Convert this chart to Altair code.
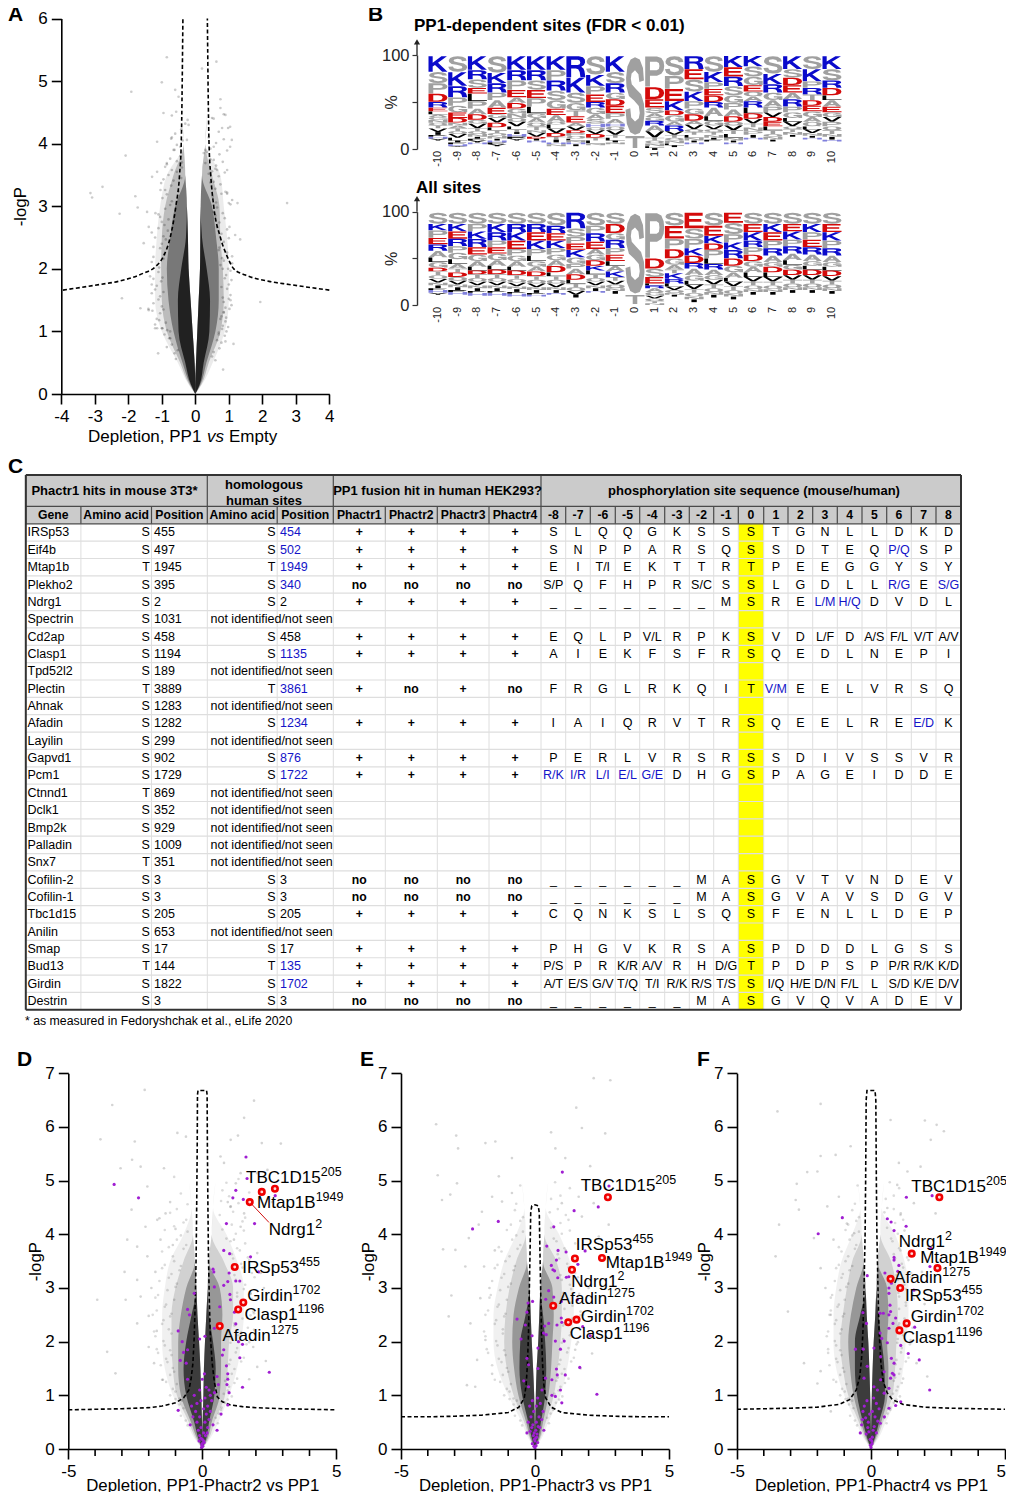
import altair as alt
import pandas as pd

FONT = "Liberation Sans"
W, H = 998, 1484

def D(**k):
    return pd.DataFrame(k)

PAGE_X = alt.Scale(domain=[0, 1014], range=[-8, 1006], nice=False, zero=False)
PAGE_Y = alt.Scale(domain=[0, 1500], range=[-8, 1492], nice=False, zero=False)

# ---------------- panel A -------------------------------------------------
A_Y = [0, .15, .5, 1, 1.5, 2, 2.5, 3, 3.5, 4, 4.5, 5]
A_GAP_L = [0, 0, -.02, -.08, -.14, -.2, -.22, -.25, -.3, -.35, -.4, -.45]
A_GAP_R = [0, 0, .02, .06, .1, .14, .15, .16, .2, .3, .35, .4]
A_LEFT = [[0, -.2, -.52, -1.0, -1.2, -1.2, -1.15, -1.05, -.85, -.35, -.4, -.45],
          [0, -.18, -.45, -.85, -1.0, -1.02, -1.0, -.9, -.65, -.35, -.4, -.45],
          [0, -.15, -.38, -.65, -.8, -.85, -.75, -.6, -.3, -.35, -.4, -.45],
          [0, -.13, -.3, -.5, -.52, -.42, -.28, -.25, -.3, -.35, -.4, -.45]]
A_RIGHT = [[0, .2, .52, .88, 1.0, 1.0, .95, .85, .75, .3, .35, .4],
           [0, .18, .4, .75, .85, .82, .75, .72, .5, .3, .35, .4],
           [0, .15, .33, .6, .7, .7, .62, .5, .2, .3, .35, .4],
           [0, .13, .25, .42, .44, .34, .2, .16, .2, .3, .35, .4]]
A_ALPHA = [.08, .2, .36, .72]
A_PTS_X = [-.85, .2, .63, -1.91, -1, -.6, -.95, -.57, -.23, -.2, -.5, .75, .75, .9, 1.04, .8, .55, 1.09, -1.14, -2.08, -3.13, -3.08, -2.77, -1.79, -1.72, -2.26, -1.44, -1.29, -1.14, -1.54, 1.26, 2.74, 1.34, 1.19, 1.02, 1.94, -2.19, -1.64, -1.39, -1.14, -1.11, 1.14, .9, .83, -.25, .25, .55, 1.04, -.85, -.65, -.9, .95, .65, .9, .95, -1.39, -1.19, -1.04, -.7, -.45, .45, .6, .3, -.4, 1.0, -1.0, 1.1, -1.25, -1.3, .85, 1.05, -1.2, -.75, .7]
A_PTS_Y = [5.38, 5.2, 5.31, 4.83, 4.98, 4.86, 4.49, 4.51, 4.38, 4.3, 4.75, 4.71, 4.57, 4.46, 4.27, 4.25, 4.4, 4.06, 4.03, 3.81, 3.21, 3.14, 3.31, 3.16, 2.98, 2.88, 2.91, 3.47, 3.55, 2.41, 3.05, 3.05, 2.47, 2.54, 2.67, 1.47, 1.53, 1.37, 1.34, 1.05, .65, .8, .84, .39, 4.06, 3.85, 3.95, 3.95, 3.69, 3.9, 3.63, 3.58, 3.58, 3.23, 3.2, 2.67, 2.89, 3.26, 4.1, 3.95, 3.75, 3.6, 3.9, 3.7, 3.05, 2.75, 2.2, 2.35, 1.75, 1.3, 1.5, 1.05, 1.0, .95]
A_STIPPLE = [(.62, [-.62, -.58, -.52, .5, .55, .6]), (.81, [-.85, -.78, -.7, .65, .72, .78]), (.97, [-1.0, -.92, -.84, -.75, .7, .8, .88, .93]),
             (1.13, [-1.2, -1.08, -.98, -.88, .75, .82, .9, .98]), (1.28, [-1.28, -1.15, -1.05, -.95, .78, .85, .92, 1.02]), (1.44, [-1.4, -1.25, -1.1, -1.0, .85, .9, 1.0, 1.08]),
             (1.6, [-1.3, -1.2, -1.05, -.95, .82, .95, 1.05]), (1.77, [-1.25, -1.15, -1.02, .78, .88, 1.0, 1.08]), (1.92, [-1.35, -1.1, -.98, .82, .92, 1.05]),
             (2.08, [-1.3, -1.08, -.95, .75, .85, .98, 1.1]), (2.25, [-1.25, -1.05, -.92, .7, .8, .95]), (2.42, [-1.2, -1.0, -.88, .72, .85, 1.0]),
             (2.6, [-1.3, -1.1, -.95, -.82, .65, .78, .95]), (2.78, [-1.05, -.92, -.8, .6, .72, .88]), (2.95, [-1.1, -.9, -.75, .55, .65, .82, 1.05]),
             (3.12, [-.98, -.85, -.7, .52, .62, .78, 1.1]), (3.3, [-1.02, -.9, -.72, -.5, .45, .6, .75, .95]), (3.47, [-.95, -.8, -.65, -.55, -.42, .4, .55, .7, .88]),
             (3.64, [-.85, -.7, -.55, -.4, .3, .5, .62, .82]), (3.82, [-.75, -.62, -.45, .35, .55, .72, .95]), (4.0, [-.72, -.55, -.38, .45, .62, .85]),
             (4.18, [-.6, -.42, .4, .7, .98]), (4.4, [-.7, -.3, .5, .85])]
A_CURVE_L_X = [-3.95, -2.85, -2.3, -1.55, -1.2, -.95, -.75, -.58, -.47, -.42, -.39, -.38, -.37]
A_CURVE_L_Y = [1.66, 1.75, 1.8, 1.93, 2.03, 2.2, 2.5, 3, 3.5, 4, 5, 5.5, 6]
A_CURVE_R_X = [4.0, 2.8, 2.2, 1.5, 1.15, .95, .75, .55, .46, .41, .38, .37, .36]
A_CURVE_R_Y = [1.66, 1.75, 1.8, 1.9, 2.0, 2.2, 2.5, 3, 3.5, 4, 5, 5.5, 6]
# the stippled points of a row do not sit exactly on its height: offsets read as the rows' spread
ROW_SPREAD = [.03, -.06, .08, -.02, .05, -.08, .01, .07, -.04]

# ---------------- panels D, E, F ------------------------------------------
CLOUD_Y = [0, .2, .5, 1, 1.5, 2, 2.5, 3, 3.5, 4, 4.5, 5]
D_GAP_L = [0, 0, -.01, -.04, -.07, -.12, -.18, -.22, -.28, -.35, -.4, -.5]
D_GAP_R = [0, 0, .01, .04, .06, .1, .15, .2, .25, .35, .4, .5]
D_LEFT = [[0, -.3, -.6, -1.1, -1.4, -1.5, -1.5, -1.4, -1.2, -.7, -.4, -.5],
          [0, -.25, -.5, -.95, -1.1, -1.15, -1.15, -1.0, -.7, -.35, -.4, -.5],
          [0, -.2, -.42, -.8, -.9, -.9, -.8, -.6, -.28, -.35, -.4, -.5],
          [0, -.15, -.3, -.6, -.7, -.6, -.4, -.22, -.28, -.35, -.4, -.5]]
D_RIGHT = [[0, .3, .6, 1.0, 1.3, 1.45, 1.55, 1.55, 1.3, .9, .4, .5],
           [0, .25, .45, .85, .95, 1.0, 1.15, 1.15, .8, .35, .4, .5],
           [0, .2, .35, .65, .7, .7, .75, .65, .25, .35, .4, .5],
           [0, .15, .25, .45, .5, .4, .25, .2, .25, .35, .4, .5]]
E_GAP_L = [0, 0, -.01, -.03, -.07, -.12, -.16, -.2, -.3, -.35, -.4, -.5]
E_GAP_R = [0, 0, .01, .03, .06, .12, .16, .2, .3, .35, .4, .5]
E_LEFT = [[0, -.25, -.5, -1.0, -1.4, -1.55, -1.55, -1.4, -1.15, -.7, -.4, -.5],
          [0, -.2, -.4, -.8, -1.05, -1.15, -1.1, -.95, -.7, -.35, -.4, -.5],
          [0, -.17, -.33, -.62, -.78, -.85, -.8, -.6, -.3, -.35, -.4, -.5],
          [0, -.12, -.25, -.48, -.58, -.55, -.35, -.2, -.3, -.35, -.4, -.5]]
E_RIGHT = [[0, .25, .5, .95, 1.2, 1.35, 1.45, 1.45, 1.3, .9, .4, .5],
           [0, .2, .4, .7, .85, .95, 1.0, 1.0, .8, .35, .4, .5],
           [0, .17, .3, .5, .6, .65, .7, .65, .3, .35, .4, .5],
           [0, .12, .22, .38, .42, .38, .3, .2, .3, .35, .4, .5]]
F_GAP_L = [0, 0, -.01, -.03, -.06, -.1, -.16, -.2, -.28, -.35, -.4, -.5]
F_GAP_R = [0, 0, .01, .03, .06, .1, .16, .2, .25, .35, .4, .5]
F_LEFT = [[0, -.28, -.55, -1.0, -1.3, -1.4, -1.4, -1.3, -1.1, -.7, -.4, -.5],
          [0, -.23, -.45, -.85, -1.05, -1.15, -1.05, -.9, -.7, -.35, -.4, -.5],
          [0, -.18, -.38, -.65, -.78, -.85, -.75, -.55, -.28, -.35, -.4, -.5],
          [0, -.14, -.3, -.52, -.6, -.6, -.4, -.2, -.28, -.35, -.4, -.5]]
F_RIGHT = [[0, .28, .55, 1.0, 1.2, 1.3, 1.4, 1.4, 1.25, .9, .4, .5],
           [0, .23, .45, .8, .9, .95, 1.0, .95, .75, .35, .4, .5],
           [0, .18, .38, .62, .65, .6, .65, .6, .25, .35, .4, .5],
           [0, .14, .3, .52, .5, .4, .28, .2, .25, .35, .4, .5]]
VOLC_ALPHA = [.06, .13, .28, .6]

D_STIPPLE = [(.5, [-.62, -.55, .5, .58]), (.68, [-.8, -.7, .62, .7]), (.85, [-1.0, -.85, -.75, .72, .85, .95]), (1.02, [-1.2, -1.0, -.85, .8, .95, 1.1]),
             (1.2, [-1.35, -1.1, -.95, .85, 1.0, 1.2]), (1.37, [-1.5, -1.2, -1.05, .95, 1.1, 1.3]), (1.55, [-1.55, -1.3, -1.1, 1.0, 1.2, 1.45]), (1.72, [-1.65, -1.35, -1.15, 1.05, 1.25, 1.55]),
             (1.9, [-1.7, -1.4, -1.2, 1.05, 1.3, 1.65]), (2.07, [-1.75, -1.45, -1.15, 1.1, 1.35, 1.75]), (2.25, [-1.8, -1.5, -1.25, 1.2, 1.45, 1.7]), (2.42, [-1.85, -1.45, -1.2, 1.2, 1.5, 1.8]),
             (2.6, [-1.7, -1.4, -1.15, 1.25, 1.55, 1.9]), (2.77, [-1.75, -1.35, -1.05, 1.3, 1.6, 1.85]), (2.95, [-1.65, -1.3, -1.0, 1.3, 1.55, 1.8]), (3.12, [-1.6, -1.25, -.95, 1.25, 1.6, 1.95]),
             (3.3, [-1.5, -1.15, -.85, 1.2, 1.5, 1.85]), (3.47, [-1.4, -1.05, -.8, 1.15, 1.45, 1.75]), (3.65, [-1.5, -1.1, -.7, 1.1, 1.4, 1.7]), (3.82, [-1.25, -.95, -.6, 1.05, 1.3, 1.6]),
             (4.0, [-1.4, -.8, -.55, .9, 1.25, 1.55]), (4.17, [-1.05, -.7, .75, 1.1, 1.5]), (4.35, [-1.2, -.6, .65, 1.15, 1.6]), (4.55, [-.95, -.55, .7, 1.05, 1.35]), (4.75, [-.8, .75, 1.0, 1.75]), (5.0, [-1.05, .9, 1.35])]
E_STIPPLE = [(.5, [-.55, -.48, .45, .52]), (.68, [-.75, -.62, .58, .68]), (.85, [-.95, -.8, -.68, .65, .78, .9]), (1.02, [-1.15, -.95, -.8, .72, .88, 1.02]),
             (1.2, [-1.3, -1.05, -.9, .8, .95, 1.12]), (1.37, [-1.5, -1.2, -1.0, .85, 1.0, 1.25]), (1.55, [-1.6, -1.25, -1.05, .9, 1.1, 1.35]), (1.72, [-1.75, -1.35, -1.1, .95, 1.2, 1.45]),
             (1.9, [-1.8, -1.4, -1.15, 1.0, 1.25, 1.55]), (2.07, [-1.85, -1.45, -1.2, 1.05, 1.3, 1.6]), (2.25, [-1.9, -1.5, -1.2, 1.05, 1.35, 1.65]), (2.42, [-1.85, -1.45, -1.15, 1.1, 1.4, 1.7]),
             (2.6, [-1.75, -1.4, -1.1, 1.1, 1.4, 1.7]), (2.77, [-1.7, -1.35, -1.05, 1.05, 1.35, 1.6]), (2.95, [-1.65, -1.3, -1.0, 1.05, 1.35, 1.65]), (3.12, [-1.6, -1.25, -.9, 1.0, 1.3, 1.6]),
             (3.3, [-1.5, -1.15, -.8, .95, 1.25, 1.5]), (3.47, [-1.4, -1.1, -.75, .9, 1.2, 1.45]), (3.65, [-1.25, -.95, -.65, .85, 1.15, 1.4]), (3.82, [-1.35, -.85, -.55, .8, 1.1, 1.5]),
             (4.0, [-1.05, -.7, -.45, .7, 1.0, 1.3]), (4.2, [-.9, -.55, .6, .95, 1.25]), (4.4, [-.75, -.45, .55, .85, 1.15]), (4.65, [-.7, .6, .95]), (4.9, [-.55, .75, 1.3])]
F_STIPPLE = [(.5, [-.6, -.52, .5, .58]), (.68, [-.78, -.66, .62, .72]), (.85, [-.95, -.82, -.7, .72, .85, .95]), (1.02, [-1.15, -.98, -.85, .82, .95, 1.08]),
             (1.2, [-1.3, -1.08, -.92, .85, 1.0, 1.15]), (1.37, [-1.4, -1.15, -1.0, .9, 1.05, 1.2]), (1.55, [-1.55, -1.25, -1.05, .92, 1.1, 1.3]), (1.72, [-1.6, -1.3, -1.1, .95, 1.12, 1.4]),
             (1.9, [-1.6, -1.3, -1.15, .98, 1.15, 1.45]), (2.07, [-1.65, -1.35, -1.15, 1.0, 1.2, 1.5]), (2.25, [-1.6, -1.35, -1.1, 1.02, 1.25, 1.55]), (2.42, [-1.55, -1.3, -1.05, 1.05, 1.25, 1.55]),
             (2.6, [-1.5, -1.25, -1.0, 1.05, 1.3, 1.6]), (2.77, [-1.5, -1.2, -.98, 1.05, 1.3, 1.6]), (2.95, [-1.45, -1.15, -.92, 1.02, 1.3, 1.55]), (3.12, [-1.35, -1.1, -.85, 1.0, 1.25, 1.5]),
             (3.3, [-1.3, -1.05, -.8, .95, 1.2, 1.5]), (3.47, [-1.2, -.95, -.7, .9, 1.15, 1.4]), (3.65, [-1.1, -.85, -.6, .85, 1.1, 1.35]), (3.82, [-1.2, -.8, -.55, .8, 1.05, 1.3]),
             (4.0, [-.95, -.7, -.45, .75, 1.0, 1.25]), (4.2, [-.85, -.55, .6, .9, 1.2]), (4.4, [-.7, -.45, .5, .85, 1.1]), (4.65, [-.6, .55, .85]), (4.9, [-.5, .7, 1.05])]

D_CURVE_X = [-5, -4, -3, -2, -1.5, -1, -.7, -.5, -.42, -.35, -.3, -.26, -.23, -.21, -.19, -.18, -.16, 0, .16, .18, .19, .21, .23, .26, .3, .37, .45, .56, .75, 1.05, 1.5, 2, 3, 4, 5]
D_CURVE_Y = [.73, .74, .75, .77, .8, .86, .95, 1.1, 1.3, 1.6, 2.1, 2.8, 3.6, 4.5, 5.6, 6.6, 6.68, 6.68, 6.68, 6.6, 5.6, 4.5, 3.6, 2.8, 2.1, 1.6, 1.25, .97, .88, .82, .79, .77, .75, .74, .73]
E_CURVE_X = [-5, -4, -3, -2, -1, -.6, -.4, -.33, -.28, -.24, -.21, -.18, -.16, -.12, 0, .12, .16, .18, .21, .24, .28, .33, .4, .6, 1, 2, 3, 4, 5]
E_CURVE_Y = [.6, .6, .61, .63, .68, .78, .95, 1.2, 1.6, 2.2, 3, 3.8, 4.4, 4.53, 4.55, 4.53, 4.4, 3.8, 3, 2.2, 1.6, 1.2, .95, .78, .68, .63, .61, .6, .6]
F_CURVE_X = [-5, -4, -3, -2, -1.2, -.8, -.55, -.42, -.35, -.3, -.26, -.22, -.2, -.18, -.15, 0, .15, .18, .2, .22, .26, .3, .37, .46, .6, .8, 1.2, 2, 3, 4, 5]
F_CURVE_Y = [.74, .75, .76, .78, .83, .92, 1.1, 1.35, 1.7, 2.2, 3, 4, 5, 6.5, 6.68, 6.68, 6.68, 6.5, 5, 4, 3, 2.2, 1.6, 1.25, 1.05, .92, .83, .78, .76, .75, .74]

D_GRAY_X = [-2.15, -3.36, -3.8, -2.52, -.93, -.61, 1.93, 1.56, 1.33, 1.06, 2.93, 2.22, -2.62, -2.3, -3.05, -1.43, -2.05, -2.64, -2.12, -1.37, -1.68, -1.56, -2.43, -2.8, -2.05, -2.43, -2.3, -2, -2.86, -3.92, -3.55, -3.24, -2.43, -1.47, .81, .68, 1.43, 2.37, 2.05, 2.43, 1.25, 1.06, 1.56, 2.05, 2.18, 2.55, 1.93, 1.93, 2.05, 1.43, 1.18, -2.9, -1.9, -1.7, 1.9, 1.8, -1.8, -1.2, -1.0, -1.6, -1.1, 2.3, 2.6, .95, -2.0, -1.75, 1.75]
D_GRAY_Y = [6.69, 6.41, 5.77, 5.73, 5.89, 5.82, 6.49, 6.17, 5.84, 5.76, 5.69, 5.7, 5.39, 5.26, 5.23, 5.23, 4.89, 4.46, 4.14, 4.39, 4.27, 3.9, 3.77, 3.9, 3.59, 3.15, 2.84, 2.48, 2.78, 2.78, 1.81, 1.41, 2.34, 1.29, 5.33, 5.45, 5.14, 1.64, 5.14, 5.2, 4.95, 4.52, 4.39, 3.65, 3.28, 2.78, 2.53, 2.22, 1.53, 4.14, 3.9, 3.3, 3.0, 2.2, 1.9, 2.9, 1.6, 4.6, 4.1, 4.3, 3.8, 3.0, 4.6, 4.6, 1.9, 3.3, 1.3]
E_GRAY_X = [2.19, 2.81, -3.69, .6, -2.94, -2.87, -1.85, -1.48, 1.54, 2.62, 1.75, .76, -.86, 1.13, 2.06, -3.63, -2.91, -3.47, -3.16, -1.98, -1.23, -2.1, -2.47, -3.43, -2.97, -3.12, -2.04, -2.41, -3.22, -1.85, -2.54, -2.16, -2.23, 2.62, 1.0, 1.63, 2.19, 2.75, 1.75, 2.38, 2.06, 2.13, 1.5, -1.6, -1.35, -.86, -1.9, -1.5, 2.0, 1.8, -1.6, -1.7, 1.7, -2.6]
E_GRAY_Y = [6.91, 6.87, 6.05, 5.9, 5.84, 5.6, 5.7, 5.73, 6.36, 5.88, 5.98, 5.6, 5.42, 5.42, 5.27, 5.1, 4.95, 4.64, 4.74, 4.42, 4.61, 4.18, 3.93, 3.72, 3.71, 2.86, 2.81, 2.34, 2.47, 2.03, 1.19, 1.66, 1.16, 4.86, 4.58, 4.7, 4.58, 4.18, 4.33, 3.96, 2.13, 1.78, 1.85, 4.7, 5.08, 4.77, 3.4, 3.7, 3.0, 2.5, 1.4, 3.0, 1.5, 3.4]
F_GRAY_X = [-3.49, -1.88, -.76, -1.88, -1.32, -2.38, -2.77, -2, -2.81, -3.43, -2.69, -1.63, -2.13, -3.56, -1.88, -.63, -3.1, -2.5, -1.88, -2, -1.5, .73, 2.01, 2.45, 2.72, 2.23, 1.36, 1.85, 1.04, .98, 1.6, .61, 1.11, 2.41, 1.73, 2.16, 1.67, 2.38, 1.48, 2.1, -.9, -1.4, -1.7, -1.5, 1.9, 2.0, 1.7, -1.2]
F_GRAY_Y = [6.29, 6.43, 5.64, 5.46, 5.48, 5.16, 4.94, 5.17, 4.64, 4.18, 4.46, 4.52, 3.93, 3.59, 3.37, 4.02, 2.56, 1.6, 1.45, 1.22, .7, 6.13, 6.12, 6.04, 5.92, 5.76, 5.17, 5.26, 5.33, 4.92, 4.58, 4.49, 4.39, 4.39, 3.9, 3.77, 2.96, 2.09, 2.03, 1.35, 4.2, 3.9, 3.0, 2.5, 3.3, 2.7, 1.6, 4.7]

D_PURPLE_X = [1.63, 1.67, -3.29, -2.38, 1.25, 1.14, 1.53, 2.72, .9, 1.95, .8, 1.02, 1.8, .4, .43, 2.1, 1.0, .45, .8, .95, 1.25, 1.4, -.3, 1.03, 1.05, 1.2, .65, -.55, -.48, 1.25, .65, .45, -.9, .1, -.1, -.75, 1.35, 1.5, .8, .75, -.55, -.7, -.82, -.6, 1.4, .9, .95, .95, 1.0, 2.5, .55, .6, .92, 1.5, .15, .25, -.1, .3, -.3, -.05, .1, .35, -.2, -.4, .2, .05, -.25, .3, -.35, .15, -.1, .25, -.45, -.2, .1, .4, -.05, .2, -.15, .05, -.1, .12, -.05, .05, 0, .02, -.02, -.9, .7, .55, .95, .08, 0, .45, -.55, .18, -.12, 0, .07, -.03]
D_PURPLE_Y = [5.44, 5.04, 4.93, 4.68, 4.82, 4.68, 4.65, 4.72, 4.2, 4.2, 3.7, 3.64, 3.58, 3.35, 3.3, 3.3, 3.28, 3.02, 3.05, 3.12, 3.13, 3.13, 2.9, 2.88, 2.78, 2.55, 2.65, 2.6, 2.5, 2.33, 2.25, 2.25, 2.2, 2.1, 2.05, 2.0, 2.0, 1.95, 1.85, 1.75, 1.85, 1.8, 1.65, 1.6, 1.7, 1.55, 1.4, 1.3, 1.05, 1.43, 1.35, 1.2, 1.2, 1.15, 1.15, 1.1, 1.1, 1.0, 1.0, .9, .95, .9, .85, .8, .8, .75, .7, .7, .6, .65, .6, .55, .45, .5, .5, .45, .4, .4, .35, .3, .25, .25, .2, .15, .1, .05, .08, .72, .65, .35, .82, 1.4, 1.3, 1.05, 1.3, .3, .15, .18, .12, .03]
E_PURPLE_X = [1.02, 2.76, 2.36, 1.46, -1.37, -2.33, .7, .44, .86, 1.16, 1.87, .8, 1.6, .61, .67, .73, .85, 1.17, 1.26, .51, .4, .7, -.09, -.26, .98, 1.58, -.3, -.67, .98, 1.0, .82, .51, .36, 1.78, 2.06, -.36, .32, .42, -.52, -.11, .76, 1.09, .95, .11, -.3, 1.67, .8, 1.13, .83, .63, .39, .11, -.24, 2.31, .95, .63, .76, 1.0, .26, -.24, -.42, .1, -.1, .2, -.2, .05, .3, -.05, .15, -.15, .25, -.25, .05, -.08, .12, -.12, .18, -.18, .03, -.03, .08, -.06, .06, .02, -.02, 0, .1, -.1, .33, -.3, .04, -.04, 0]
E_PURPLE_Y = [5.16, 4.9, 4.51, 4.44, 4.24, 4.1, 4.14, 3.78, 3.7, 3.67, 3.69, 3.52, 3.44, 3.42, 3.34, 3.32, 3.19, 3.2, 3.21, 2.95, 2.79, 2.83, 2.75, 2.72, 2.75, 2.78, 2.55, 2.42, 2.44, 2.36, 2.31, 2.34, 2.29, 2.28, 2.11, 2.31, 2.16, 2.13, 2.05, 2.11, 2.01, 2.01, 1.86, 1.88, 1.69, 1.52, 1.49, 1.38, 1.38, 1.29, 1.32, 1.5, 1.57, 1.02, 1.1, 1.0, .98, .86, 1.1, 1.16, 1.27, .95, .9, .85, .8, .8, .7, .7, .6, .6, .55, .5, .5, .45, .42, .4, .4, .33, .35, .3, .28, .25, .22, .2, .18, .15, .12, .1, .35, .3, .06, .05, .02]
F_PURPLE_X = [2.28, 1.32, -1.07, .61, .75, 1.31, .86, -1.97, 2.23, .86, .86, 1.04, 2.2, 1.0, .52, -.14, .76, .67, 1.6, .67, .71, .34, .73, .67, -.3, .46, .92, -.17, .82, .67, 1.63, .34, .4, 1.11, .61, -.58, -.29, .11, 1.39, .76, 1.8, .36, .86, -.14, .49, .8, .86, .73, -.26, .36, 2.19, .11, .24, .49, .67, 1.11, .92, .67, .1, -.15, .2, -.25, .3, -.3, .05, -.05, .15, -.2, .25, -.1, .35, -.35, .12, -.12, .08, -.08, .2, -.18, .05, -.03, .03, .04, -.02, 0, .5, -.32, -.4]
F_PURPLE_Y = [4.72, 4.69, 4.31, 4.29, 4.23, 4.15, 4.07, 4.01, 3.74, 3.57, 3.52, 3.42, 3.4, 3.31, 3.28, 3.23, 3.09, 3.0, 2.96, 2.9, 2.68, 2.53, 2.56, 2.5, 2.54, 2.53, 2.44, 2.34, 2.34, 2.25, 2.27, 2.16, 2.06, 1.93, 1.98, 1.86, 1.86, 1.88, 1.78, 1.69, 1.66, 1.72, 1.6, 1.54, 1.44, 1.41, 1.38, 1.32, 1.32, 1.29, 1.1, 1.16, 1.1, 1.04, 1.13, .88, .81, .76, .95, .9, .85, .8, .75, .7, .7, .65, .6, .58, .52, .5, .48, .45, .42, .4, .35, .32, .3, .28, .22, .18, .15, .1, .07, .03, .6, .55, .3]

D_RED_X = [2.71, 2.22, 1.77, 1.21, 1.53, 1.34, .65]
D_RED_Y = [4.85, 4.79, 4.60, 3.39, 2.73, 2.60, 2.29]
E_RED_X = [2.72, 1.49, 2.5, 1.38, .68, 1.55, 1.24]
E_RED_Y = [4.69, 3.55, 3.56, 3.34, 2.67, 2.41, 2.36]
F_RED_X = [2.55, 1.52, 2.48, .73, 1.09, 1.33, 1.06]
F_RED_Y = [4.69, 3.64, 3.37, 3.17, 3.0, 2.34, 2.21]

LABEL_NAMES = ["TBC1D15", "Mtap1B", "Ndrg1", "IRSp53", "Girdin", "Clasp1", "Afadin"]
LABEL_SUPS = ["205", "1949", "2", "455", "1702", "1196", "1275"]
D_LAB_X = [4.42, 4.23, 4.21, 3.61, 3.37, 3.55, 2.55]
D_LAB_Y = [4.95, 4.49, 3.98, 3.28, 2.75, 2.41, 2.02]
E_LAB_X = [4.49, 4.83, 3.08, 3.64, 3.40, 3.27, 2.69]
E_LAB_Y = [4.80, 3.37, 3.01, 3.70, 2.37, 2.05, 2.70]
F_LAB_X = [4.29, 4.02, 2.76, 3.38, 3.18, 3.16, 2.66]
F_LAB_Y = [4.79, 3.46, 3.77, 2.75, 2.36, 1.97, 3.10]

# ---------------- panel B -------------------------------------------------
LOGO_TOP = ["K17 S12 P11 D9 R6 E4 L3 A3 G3 N3 Q3 T3 V4 I3 F2 H2 Y2",
            "S17 K15 R12 P9 G7 E6 D5 N3 A3 T3 Q3 V4 L3 I2 F2 H2 Y1",
            "K15 R10 S9 E6 L8 P8 A6 D6 G4 V5 T3 Q3 N3 I2 F2 Y2 H2",
            "S18 K11 R10 P8 A8 E7 G4 V5 D5 L3 T3 Q3 N3 I2 H2 F2 Y2",
            "K15 R11 P10 E8 A6 D6 G5 N5 Q4 V5 L3 T3 I2 H3 F2 Y2",
            "K15 R11 S10 E9 P9 L7 G5 A5 Q4 T4 N3 V4 D2 I2 H2",
            "K15 P11 R11 S10 G9 E7 A7 Q3 L4 V5 D4 T3 I3 H2 N2",
            "R23 K16 S11 G8 T6 E7 A4 V4 D3 P3 Q3 L2 N2 H2 I2",
            "S20 K12 P9 E8 R6 G7 A5 S5 H4 Q3 V4 D4 T3 L3 N2",
            "K17 S12 R10 G7 D7 E8 P6 A5 H3 Q4 V5 T3 L3 I2 N2",
            "S85 T13",
            "P33 D13 E9 S6 A4 G4 R5 A6 V7 T3 Q3 N3 L2 I2",
            "S21 P14 E13 K10 D5 G7 A4 R6 V4 T3 Q3 N3 L2 I2",
            "R14 E11 S13 K10 P8 G6 D7 A4 V5 Q3 T3 L3 N3 I2 H2",
            "S17 K11 P7 E7 D7 R6 A9 L5 G5 V4 Q3 T3 N3 I2 F2",
            "K12 E10 R10 S10 G8 P7 A7 D6 Q4 V5 T4 L4 N3 I2 H2",
            "K11 S11 G9 E7 Q5 A5 R7 L6 D6 V5 T4 N4 P4 I3 H2",
            "S19 K11 R9 G8 A7 P6 V5 D5 E5 L4 T4 Q3 N3 I2",
            "K14 S9 D8 E8 A7 R8 P6 G6 L4 V5 Q3 T3 N3 I2",
            "S14 K13 P7 R7 T6 D6 E6 G6 A5 Q5 L3 V4 N3 I2 H2",
            "K14 S12 R8 D8 L5 A7 E6 G5 V5 P5 Q4 T4 N3 I3 H2"]
LOGO_ALL = ["S12 K7 P8 E7 R7 A7 L5 G6 D4 T4 Q4 V4 N3 I3 F2 H3 Y2",
            "S12 K8 E8 R8 P7 G7 L5 A5 T4 D5 Q4 V4 N3 I3 F2 H3",
            "S12 P8 K8 R9 E8 G7 A6 L4 D4 T4 Q4 V4 N3 I3 F2 H3",
            "S12 K9 R9 P7 E7 G7 A6 L4 D5 T4 Q4 V4 N3 I3 F2 H3",
            "S12 R9 K9 E9 P7 G6 A6 L4 D5 T4 Q4 V4 N3 I3 F2 H3",
            "S12 R9 E9 K9 P7 L6 G6 A5 D5 T4 Q4 V4 N3 I3 F2 H2",
            "S14 R8 E8 K8 P7 G6 A6 D7 L4 T4 Q4 V4 N3 I3 H2",
            "R17 S9 P7 E7 K8 G7 P5 A6 D6 L4 T4 Q4 V4 I3",
            "S14 P8 R9 E8 A6 G6 D6 K5 L4 T4 Q4 V4 N3 I3 H2",
            "S12 D10 G7 R9 P7 E7 L5 A6 K6 T4 V4 Q4 N3 I3",
            "S88 T10",
            "P49 D11 S9 E7 L2 R3 A4 G4 V3 Q3 T2 N2",
            "S14 E14 P11 D10 G7 A5 T4 K6 R5 L3 V4 Q3 N2 I2",
            "E17 S11 P10 K8 D8 R6 A7 G6 L4 V5 T4 Q4 N3 I3",
            "S14 E11 K8 D7 P9 L6 R6 A6 G5 V5 T4 Q4 N3 I3",
            "E11 S12 P9 K8 R9 D8 G7 A6 L4 V5 T4 Q4 N3 I3",
            "S12 E9 K9 R7 P8 D7 G6 A6 L5 V5 T4 Q4 N3 I3",
            "S12 K9 E9 P8 R8 A7 G5 D6 L5 V5 T4 Q4 N3 I3",
            "S12 E8 K9 P7 R8 A7 L5 G5 D6 V5 T4 Q4 N3 I3",
            "S12 K9 P8 E8 R8 A7 G5 L4 D6 V5 T4 Q4 N3 I3",
            "S12 E9 K9 P8 R8 A7 G5 L4 D6 V5 T4 Q4 N3 I3"]
LOGO_POS = list(range(-10, 11))
BLUE_AA, RED_AA, BLACK_AA = "KR", "DE", "LVIMFYW"

GLYPHS = {
    "K": [[(0,0),(.22,0),(.22,.42),(.68,0),(.97,0),(.5,.43),(1,1),(.72,1),(.34,.57),(.22,.67),(.22,1),(0,1)]],
    "E": [[(0,0),(.95,0),(.95,.18),(.24,.18),(.24,.4),(.88,.4),(.88,.58),(.24,.58),(.24,.82),(1,.82),(1,1),(0,1)]],
    "T": [[(0,0),(1,0),(1,.18),(.62,.18),(.62,1),(.38,1),(.38,.18),(0,.18)]],
    "L": [[(0,0),(.2,0),(.2,.9),(1,.9),(1,1),(0,1)]],
    "V": [[(0,0),(.2,0),(.5,.72),(.8,0),(1,0),(.6,1),(.4,1)]],
    "A": [[(.38,0),(.62,0),(1,1),(.74,1),(.66,.77),(.34,.77),(.26,1),(0,1)], [(.41,.58),(.59,.58),(.5,.28)]],
    "H": [[(0,0),(.24,0),(.24,.4),(.76,.4),(.76,0),(1,0),(1,1),(.76,1),(.76,.58),(.24,.58),(.24,1),(0,1)]],
    "I": [[(.36,0),(.64,0),(.64,1),(.36,1)]],
    "N": [[(0,0),(.24,0),(.76,.62),(.76,0),(1,0),(1,1),(.76,1),(.24,.38),(.24,1),(0,1)]],
    "M": [[(0,0),(.28,0),(.5,.62),(.72,0),(1,0),(1,1),(.78,1),(.78,.35),(.58,1),(.42,1),(.22,.35),(.22,1),(0,1)]],
    "F": [[(0,0),(.95,0),(.95,.18),(.25,.18),(.25,.42),(.85,.42),(.85,.6),(.25,.6),(.25,1),(0,1)]],
    "Y": [[(0,0),(.27,0),(.5,.42),(.73,0),(1,0),(.62,.6),(.62,1),(.38,1),(.38,.6)]],
    "P": [[(0,0),(.62,0),(.85,.05),(.97,.18),(1,.32),(.97,.46),(.85,.58),(.62,.64),(.25,.64),(.25,1),(0,1)],
          [(.25,.18),(.25,.46),(.6,.46),(.72,.42),(.75,.32),(.72,.22),(.6,.18)]],
    "R": [[(0,0),(.65,0),(.87,.05),(.97,.16),(.98,.3),(.92,.42),(.78,.5),(.9,.58),(.95,.7),(1,1),(.74,1),(.7,.75),(.62,.62),(.5,.58),(.25,.58),(.25,1),(0,1)],
          [(.25,.17),(.25,.42),(.6,.42),(.7,.38),(.73,.3),(.7,.2),(.6,.17)]],
    "D": [[(0,0),(.55,0),(.8,.07),(.95,.25),(1,.5),(.95,.75),(.8,.93),(.55,1),(0,1)],
          [(.25,.18),(.25,.82),(.5,.82),(.68,.75),(.75,.5),(.68,.25),(.5,.18)]],
    "S": [[(.5,0),(.75,.03),(.92,.14),(.97,.3),(.73,.32),(.68,.22),(.5,.17),(.32,.21),(.28,.28),(.33,.35),(.55,.41),(.82,.48),(.97,.6),(1,.73),(.93,.88),(.75,.98),(.5,1),(.25,.97),(.07,.86),(0,.68),(.25,.66),(.3,.78),(.5,.83),(.7,.79),(.75,.72),(.7,.63),(.45,.56),(.18,.5),(.05,.38),(.03,.27),(.1,.12),(.27,.03)]],
    "G": [[(.5,0),(.75,.03),(.92,.15),(.98,.32),(.73,.34),(.66,.22),(.5,.17),(.33,.23),(.25,.5),(.33,.77),(.5,.83),(.68,.78),(.75,.65),(.55,.65),(.55,.48),(1,.48),(1,1),(.82,1),(.8,.9),(.65,.98),(.48,1),(.2,.93),(.04,.72),(0,.5),(.05,.27),(.2,.08)]],
    "Q": [[(.5,0),(.8,.07),(.96,.27),(1,.5),(.96,.72),(.87,.84),(1,.93),(.88,1),(.73,.93),(.5,1),(.2,.93),(.04,.72),(0,.5),(.04,.27),(.2,.07)],
          [(.5,.17),(.33,.23),(.25,.5),(.33,.77),(.5,.83),(.67,.77),(.75,.5),(.67,.23)]],
}

# ---------------- panel C -------------------------------------------------
GENES = ["IRSp53", "Eif4b", "Mtap1b", "Plekho2", "Ndrg1", "Spectrin", "Cd2ap", "Clasp1", "Tpd52l2", "Plectin", "Ahnak", "Afadin", "Layilin", "Gapvd1", "Pcm1", "Ctnnd1", "Dclk1", "Bmp2k", "Palladin", "Snx7", "Cofilin-2", "Cofilin-1", "Tbc1d15", "Anilin", "Smap", "Bud13", "Girdin", "Destrin"]
MOUSE_AA = list("SSTSSSSSSTSSSSSTSSSTSSSSSTSS")
MOUSE_POS = ["455", "497", "1945", "395", "2", "1031", "458", "1194", "189", "3889", "1283", "1282", "299", "902", "1729", "869", "352", "929", "1009", "351", "3", "3", "205", "653", "17", "144", "1822", "3"]
HUMAN_POS = ["454", "502", "1949", "340", "2", None, "458", "1135", None, "3861", None, "1234", None, "876", "1722", None, None, None, None, None, "3", "3", "205", None, "17", "135", "1702", "3"]
HUMAN_BLUE = {"454", "502", "1949", "340", "1135", "3861", "1234", "876", "1722", "135", "1702"}
FUSION = {"Plekho2": ["no"] * 4, "Plectin": ["+", "no", "+", "no"], "Cofilin-2": ["no"] * 4, "Cofilin-1": ["no"] * 4, "Destrin": ["no"] * 4}
SEQ_HEAD = ["-8", "-7", "-6", "-5", "-4", "-3", "-2", "-1", "0", "1", "2", "3", "4", "5", "6", "7", "8"]
SEQ = {
    "IRSp53": "S L Q Q G K S S S T G N L L D K D",
    "Eif4b": "S N P P A R S Q S S D T E Q P/Q S P",
    "Mtap1b": "E I T/I E K T T R T P E E G G Y S Y",
    "Plekho2": "S/P Q F H P R S/C S S L G D L L R/G E S/G",
    "Ndrg1": "_ _ _ _ _ _ _ M S R E L/M H/Q D V D L",
    "Cd2ap": "E Q L P V/L R P K S V D L/F D A/S F/L V/T A/V",
    "Clasp1": "A I E K F S F R S Q E D L N E P I",
    "Plectin": "F R G L R K Q I T V/M E E L V R S Q",
    "Afadin": "I A I Q R V T R S Q E E L R E E/D K",
    "Gapvd1": "P E R L V R S R S S D I V S S V R",
    "Pcm1": "R/K I/R L/I E/L G/E D H G S P A G E I D D E",
    "Cofilin-2": "_ _ _ _ _ _ M A S G V T V N D E V",
    "Cofilin-1": "_ _ _ _ _ _ M A S G V A V S D G V",
    "Tbc1d15": "C Q N K S L S Q S F E N L L D E P",
    "Smap": "P H G V K R S A S P D D D L G S S",
    "Bud13": "P/S P R K/R A/V R H D/G T P D P S P P/R R/K K/D",
    "Girdin": "A/T E/S G/V T/Q T/I R/K R/S T/S S I/Q H/E D/N F/L L S/D K/E D/V",
    "Destrin": "_ _ _ _ _ _ M A S G V Q V A D E V",
}
SEQ_BLUE = {"P/Q", "R/G", "S/G", "L/M", "H/Q", "V/M", "E/D", "I/R", "L/I", "E/L", "G/E"}
PCM1_BLUE = {"R/K"}
EDGES = [25.8, 80.9, 151.5, 207.3, 277.2, 333.3, 385.3, 437.3, 489, 541, 565.7, 590.3, 615.3, 639.7, 664.7, 689.3, 713.7, 738.3, 763.7, 788, 812.7, 837.3, 862, 886.7, 911.3, 936, 961]
TOP_EDGES = [25.8, 207.3, 333.3, 541, 961]
TABLE_X = alt.Scale(domain=[0, 1014], range=[-8, 1006], nice=False, zero=False)
TABLE_Y = alt.Scale(domain=[-2.81, 28], range=[467, 1001.8], nice=False, zero=False)
BLUE = "#1414c8"
HYPHEN = "''+datum.value"


def xy(xf, yf, sx, sy, xaxis=None, yaxis=None):
    return dict(x=alt.X(xf, scale=sx, axis=xaxis), y=alt.Y(yf, scale=sy, axis=yaxis))


def cloud(Y, gapl, gapr, left, right, alphas, sx, sy):
    out = []
    for lv in range(4):
        for a, b in ((left[lv], gapl), (gapr, right[lv])):
            out.append(alt.Chart(D(y=Y, a=a, b=b)).mark_area(orient="horizontal", color="black", opacity=alphas[lv], strokeWidth=0, interpolate="monotone").encode(
                x=alt.X("a:Q", scale=sx, axis=None), x2="b:Q", y=alt.Y("y:Q", scale=sy, axis=None)))
    return out


def stipple(rows, sx, sy, op):
    ys, xs = [], []
    for r, (y, vals) in enumerate(rows):
        for k, v in enumerate(vals):
            ys.append(y + ROW_SPREAD[(r + k) % len(ROW_SPREAD)])
            xs.append(v)
    return alt.Chart(D(x=xs, y=ys)).mark_circle(size=7, color="black", opacity=op).encode(**xy("x:Q", "y:Q", sx, sy))


def ax_style(**k):
    base = dict(grid=False, domainColor="black", domainWidth=1.6, tickColor="black", tickWidth=1.6, tickSize=10, labelFont=FONT, labelFontSize=17, labelColor="black", titleFont=FONT, titleFontSize=16.8, titleColor="black", titleFontWeight="normal", zindex=1, labelPadding=4, labelOverlap=False, labelFlush=False, labelExpr=HYPHEN)
    base.update(k)
    return alt.Axis(**base)


def axis_layer(sx, sy, xax, yax):
    """Carries a panel's two axes; the one row lies inside its domains and draws nothing."""
    return alt.Chart(D(x=[0], y=[0])).mark_point(opacity=0).encode(x=alt.X("x:Q", scale=sx, axis=xax), y=alt.Y("y:Q", scale=sy, axis=yax))


def panel_a():
    x0, x1, y0, y1 = 61.3 - 8, 329.3 - 8, 394 - 8, 18.5 - 8
    sx = alt.Scale(domain=[-4, 4], range=[x0, x1], nice=False, zero=False)
    sy = alt.Scale(domain=[0, 6], range=[y0, y1], nice=False, zero=False)
    xax = ax_style(orient="bottom", offset=-(H - y0), values=list(range(-4, 5)), title=None)
    yax = ax_style(orient="left", offset=-x0, values=list(range(0, 7)), title="-logP", titlePadding=8)
    layers = cloud(A_Y, A_GAP_L, A_GAP_R, A_LEFT, A_RIGHT, A_ALPHA, sx, sy)
    layers.append(stipple(A_STIPPLE, sx, sy, .22))
    layers.append(alt.Chart(D(x=A_PTS_X, y=A_PTS_Y)).mark_circle(size=7, color="black", opacity=.2).encode(**xy("x:Q", "y:Q", sx, sy)))
    for cx, cy in ((A_CURVE_L_X, A_CURVE_L_Y), (A_CURVE_R_X, A_CURVE_R_Y)):
        layers.append(alt.Chart(D(x=cx, y=cy, i=range(len(cx)))).mark_line(color="black", strokeWidth=1.6, strokeDash=[4, 2.5], interpolate="monotone").encode(order="i:Q", **xy("x:Q", "y:Q", sx, sy)))
    layers.append(axis_layer(sx, sy, xax, yax))
    return layers


def panel_volc(X0, xlabel, gapl, gapr, left, right, stip, curve_x, curve_y, gx, gy, px, py, rx, ry, lx, ly, connector=None, flush_five=False):
    x0, x1, y0, y1 = X0 - 8, X0 + 268 - 8, 1449 - 8, 1073.3 - 8
    sx = alt.Scale(domain=[-5, 5], range=[x0, x1], nice=False, zero=False)
    sy = alt.Scale(domain=[0, 7], range=[y0, y1], nice=False, zero=False)
    expr = "datum.value==5?'':''+datum.value" if flush_five else HYPHEN
    xax = ax_style(orient="bottom", offset=-(H - y0), values=[-5, 0, 5], title=xlabel, titleY=41, titleBaseline="alphabetic", labelExpr=expr)
    yax = ax_style(orient="left", offset=-x0, values=list(range(0, 8)), title="-logP", titlePadding=0)
    layers = cloud(CLOUD_Y, gapl, gapr, left, right, VOLC_ALPHA, sx, sy)
    layers.append(alt.Chart(D(x=[-4, -3, -2, -1, 1, 2, 3, 4])).mark_rule(color="black", strokeWidth=1.6).encode(
        x=alt.X("x:Q", scale=sx, axis=None), y=alt.value(y0), y2=alt.value(y0 + 7)))
    layers.append(stipple(stip, sx, sy, .14))
    layers.append(alt.Chart(D(x=gx, y=gy)).mark_circle(size=7, color="black", opacity=.17).encode(**xy("x:Q", "y:Q", sx, sy)))
    layers.append(alt.Chart(D(x=curve_x, y=curve_y, i=range(len(curve_x)))).mark_line(color="black", strokeWidth=1.6, strokeDash=[4, 2.5]).encode(order="i:Q", **xy("x:Q", "y:Q", sx, sy)))
    layers.append(alt.Chart(D(x=px, y=py)).mark_circle(size=10, color="#a01ed2", opacity=1).encode(**xy("x:Q", "y:Q", sx, sy)))
    if connector:
        layers.append(alt.Chart(D(x=[connector[0]], y=[connector[1]], x2=[connector[2]], y2=[connector[3]])).mark_rule(color="#d01010", strokeWidth=1).encode(x2="x2:Q", y2="y2:Q", **xy("x:Q", "y:Q", sx, sy)))
    layers.append(alt.Chart(D(x=rx, y=ry)).mark_point(size=30, filled=False, fill="#ffd8d8", fillOpacity=1, color="#f00000", strokeWidth=2.6, opacity=1).encode(**xy("x:Q", "y:Q", sx, sy)))
    lab = D(x=lx, y=ly, n=LABEL_NAMES, s=LABEL_SUPS)
    layers.append(alt.Chart(lab).mark_text(align="right", baseline="alphabetic", font=FONT, fontSize=17, color="black").encode(text="n:N", **xy("x:Q", "y:Q", sx, sy)))
    layers.append(alt.Chart(lab).mark_text(align="left", baseline="alphabetic", font=FONT, fontSize=12.5, dy=-7, color="black").encode(text="s:N", **xy("x:Q", "y:Q", sx, sy)))
    if flush_five:
        layers.append(alt.Chart(D(x=[5], t=["5"])).mark_text(align="right", baseline="alphabetic", font=FONT, fontSize=17, color="black", dx=1).encode(
            x=alt.X("x:Q", scale=sx, axis=None), y=alt.value(y0 + 28), text="t:N"))
    layers.append(axis_layer(sx, sy, xax, yax))
    return layers


def glyph_path(letter, px_h):
    half = 9.5
    parts = []
    for poly in GLYPHS[letter]:
        pts = ["%.3f %.3f" % (2 * x - 1, (y - .5) * px_h / half) for x, y in poly]
        parts.append("M" + "L".join(pts) + "Z")
    return "".join(parts)


def logo(cols, y0_page, y100_page):
    x0, x1 = 438 - 8, 832 - 8
    y0, y1 = y0_page - 8, y100_page - 8
    sx = alt.Scale(domain=[-10, 10], range=[x0, x1], nice=False, zero=False)
    sy = alt.Scale(domain=[0, 100], range=[y0, y1], nice=False, zero=False)
    per = (y0 - y1) / 100
    rows = []
    for pos, col in zip(LOGO_POS, cols):
        top = 99
        for tok in col.split():
            aa, pct = tok[0], float(tok[1:])
            color = "#0a0acb" if aa in BLUE_AA else "#8080dc" if aa == "H" else "#d40a0a" if aa in RED_AA else "#000000" if aa in BLACK_AA else "#a0a0a0"
            rows.append(dict(x=pos, y=top - pct / 2, path=glyph_path(aa, pct * per * .97), c=color, aa=aa))
            top -= pct
    axis_x = 417 - 8
    yax = alt.Axis(orient="left", offset=-axis_x, values=[0, 50, 100], labelExpr="datum.value==50?'':datum.label", grid=False, domainColor="#333333", domainWidth=1.4, tickColor="#333333", tickWidth=1.2, tickSize=5, labelFont=FONT, labelFontSize=16.5, labelColor="#222222", title="%", titleFont=FONT, titleFontSize=16, titleFontWeight="normal", titleColor="#222222", titleX=-18, titleY=(y0 + y1) / 2, labelPadding=3)
    base = alt.Chart(pd.DataFrame(rows)).mark_point(filled=True, size=361, strokeWidth=0, opacity=1).encode(
        x=alt.X("x:Q", scale=sx, axis=None), y=alt.Y("y:Q", scale=sy, axis=yax),
        shape=alt.Shape("path:N", scale=None), color=alt.Color("c:N", scale=None))
    shaft = alt.Chart(D(a=[100], b=[113])).mark_rule(color="#333333", strokeWidth=1.4).encode(x=alt.value(axis_x), y=alt.Y("a:Q", scale=sy, axis=None), y2="b:Q")
    head = alt.Chart(D(a=[114])).mark_point(shape="triangle-up", filled=True, size=38, color="#222222", opacity=1).encode(x=alt.value(axis_x), y=alt.Y("a:Q", scale=sy, axis=None))
    labs = alt.Chart(D(x=LOGO_POS, y=[-2] * 21, t=[str(v) for v in LOGO_POS])).mark_text(angle=270, align="right", baseline="middle", font=FONT, fontSize=11, color="#222222").encode(text="t:N", **xy("x:Q", "y:Q", sx, sy))
    return [base, shaft, head, labs]


def table():
    sx, sy = TABLE_X, TABLE_Y
    L = []
    n = len(GENES)
    rect = lambda x1, x2, y1, y2, c: alt.Chart(D(a=[x1], b=[x2], c=[y1], d=[y2])).mark_rect(color=c, opacity=1).encode(x=alt.X("a:Q", scale=sx, axis=None), x2="b:Q", y=alt.Y("c:Q", scale=sy, axis=None), y2="d:Q")
    L.append(rect(25.8, 961, -2.81, 0, "#cbcbcb"))
    L.append(rect(738.3, 763.7, 0, 28, "#ffff00"))

    def rules(vs, y1, y2, c, w):
        return alt.Chart(D(x=vs, a=[y1] * len(vs), b=[y2] * len(vs))).mark_rule(color=c, strokeWidth=w).encode(x=alt.X("x:Q", scale=sx, axis=None), y=alt.Y("a:Q", scale=sy, axis=None), y2="b:Q")

    def hrules(vs, x1, x2, c, w):
        return alt.Chart(D(y=vs, a=[x1] * len(vs), b=[x2] * len(vs))).mark_rule(color=c, strokeWidth=w).encode(y=alt.Y("y:Q", scale=sy, axis=None), x=alt.X("a:Q", scale=sx, axis=None), x2="b:Q")

    L.append(rules(EDGES, 0, n, "#dedede", 1))
    L.append(hrules(list(range(1, n)), 25.8, 961, "#dedede", 1.2))
    L.append(rules(EDGES, -1, 0, "#4a4a4a", 1.2))
    L.append(rules(TOP_EDGES, -2.81, -1, "#4a4a4a", 1.2))
    L.append(hrules([-1, 0], 25.8, 961, "#4a4a4a", 1.2))
    L.append(rules([25.8, 961], -2.81, n, "#333333", 2))
    L.append(hrules([-2.81, n], 25.8, 961, "#333333", 2))

    recs = []
    def add(x, r, t, align="center", style="body", color="black"):
        recs.append(dict(x=x, r=r, t=t, align=align, style=style, color=color))

    add(114.5, -1.86, "Phactr1 hits in mouse 3T3*", style="top")
    add(264, -2.25, "homologous", style="top")
    add(264, -1.34, "human sites", style="top")
    add(437.5, -1.86, "PP1 fusion hit in human HEK293?", style="top")
    add(754, -1.86, "phosphorylation site sequence (mouse/human)", style="top")
    for i, h in enumerate(["Gene", "Amino acid", "Position", "Amino acid", "Position", "Phactr1", "Phactr2", "Phactr3", "Phactr4"]):
        add((EDGES[i] + EDGES[i + 1]) / 2, -.5, h, style="head")
    for i, h in enumerate(SEQ_HEAD):
        add((EDGES[9 + i] + EDGES[10 + i]) / 2, -.5, h, style="head")
    for i, g in enumerate(GENES):
        r = i + .5
        add(27.5, r, g, "left")
        add(149.8, r, MOUSE_AA[i], "right")
        add(154, r, MOUSE_POS[i], "left")
        hp = HUMAN_POS[i]
        if hp is None:
            add(210.5, r, "not identified/not seen", "left")
            continue
        add(275.5, r, MOUSE_AA[i], "right")
        add(280, r, hp, "left", color=BLUE if hp in HUMAN_BLUE else "black")
        for k, v in enumerate(FUSION.get(g, ["+"] * 4)):
            add((EDGES[5 + k] + EDGES[6 + k]) / 2, r, v, style="head")
        for k, v in enumerate(SEQ[g].split()):
            blue = v in SEQ_BLUE or (g == "Pcm1" and v in PCM1_BLUE)
            add((EDGES[9 + k] + EDGES[10 + k]) / 2, r, v, color=BLUE if blue else "black")
    df = pd.DataFrame(recs)
    sizes = {"body": (12.5, "normal"), "head": (12.2, "bold"), "top": (13, "bold")}
    for (al, st), sub in df.groupby(["align", "style"]):
        L.append(alt.Chart(sub.drop(columns=["align", "style"])).mark_text(align=al, baseline="middle", font=FONT, fontSize=sizes[st][0], fontWeight=sizes[st][1]).encode(
            x=alt.X("x:Q", scale=sx, axis=None), y=alt.Y("r:Q", scale=sy, axis=None), text="t:N", color=alt.Color("color:N", scale=None)))
    return L


def page_text():
    rows = [
        (8, 21, "A", 21, "bold", "normal"), (368, 21, "B", 21, "bold", "normal"), (8, 473, "C", 21, "bold", "normal"),
        (17, 1066, "D", 21, "bold", "normal"), (360, 1066, "E", 21, "bold", "normal"), (697, 1066, "F", 21, "bold", "normal"),
        (414, 31, "PP1-dependent sites (FDR < 0.01)", 17, "bold", "normal"), (416, 193, "All sites", 17, "bold", "normal"),
        (25, 1025, "* as measured in Fedoryshchak et al., eLife 2020", 12.3, "normal", "normal"),
        (88, 442, "Depletion, PP1", 17, "normal", "normal"), (207, 442, "vs", 17, "normal", "italic"), (229, 442, "Empty", 17, "normal", "normal"),
    ]
    L = []
    for x, y, t, fs, w, st in rows:
        L.append(alt.Chart(D(x=[x], y=[y], t=[t])).mark_text(align="left", baseline="alphabetic", font=FONT, fontSize=fs, fontWeight=w, fontStyle=st, color="black").encode(
            x=alt.X("x:Q", scale=PAGE_X, axis=None), y=alt.Y("y:Q", scale=PAGE_Y, axis=None), text="t:N"))
    return L


layers = []
layers += panel_a()
layers += logo(LOGO_TOP, 149, 55)
layers += logo(LOGO_ALL, 305, 211.7)
layers += table()
layers += panel_volc(68.3, "Depletion, PP1-Phactr2 vs PP1", D_GAP_L, D_GAP_R, D_LEFT, D_RIGHT, D_STIPPLE, D_CURVE_X, D_CURVE_Y, D_GRAY_X, D_GRAY_Y, D_PURPLE_X, D_PURPLE_Y, D_RED_X, D_RED_Y, D_LAB_X, D_LAB_Y, connector=(1.77, 4.6, 2.49, 4.22))
layers += panel_volc(401, "Depletion, PP1-Phactr3 vs PP1", E_GAP_L, E_GAP_R, E_LEFT, E_RIGHT, E_STIPPLE, E_CURVE_X, E_CURVE_Y, E_GRAY_X, E_GRAY_Y, E_PURPLE_X, E_PURPLE_Y, E_RED_X, E_RED_Y, E_LAB_X, E_LAB_Y)
layers += panel_volc(737, "Depletion, PP1-Phactr4 vs PP1", F_GAP_L, F_GAP_R, F_LEFT, F_RIGHT, F_STIPPLE, F_CURVE_X, F_CURVE_Y, F_GRAY_X, F_GRAY_Y, F_PURPLE_X, F_PURPLE_Y, F_RED_X, F_RED_Y, F_LAB_X, F_LAB_Y, flush_five=True)
layers += page_text()

chart = alt.layer(*layers).resolve_scale(x="independent", y="independent").properties(
    width=W, height=H, padding=0, autosize=alt.AutoSizeParams(type="none"), background="white"
).configure_view(stroke=None)

chart.save("out.html", embed_options={"renderer": "svg", "actions": False})
